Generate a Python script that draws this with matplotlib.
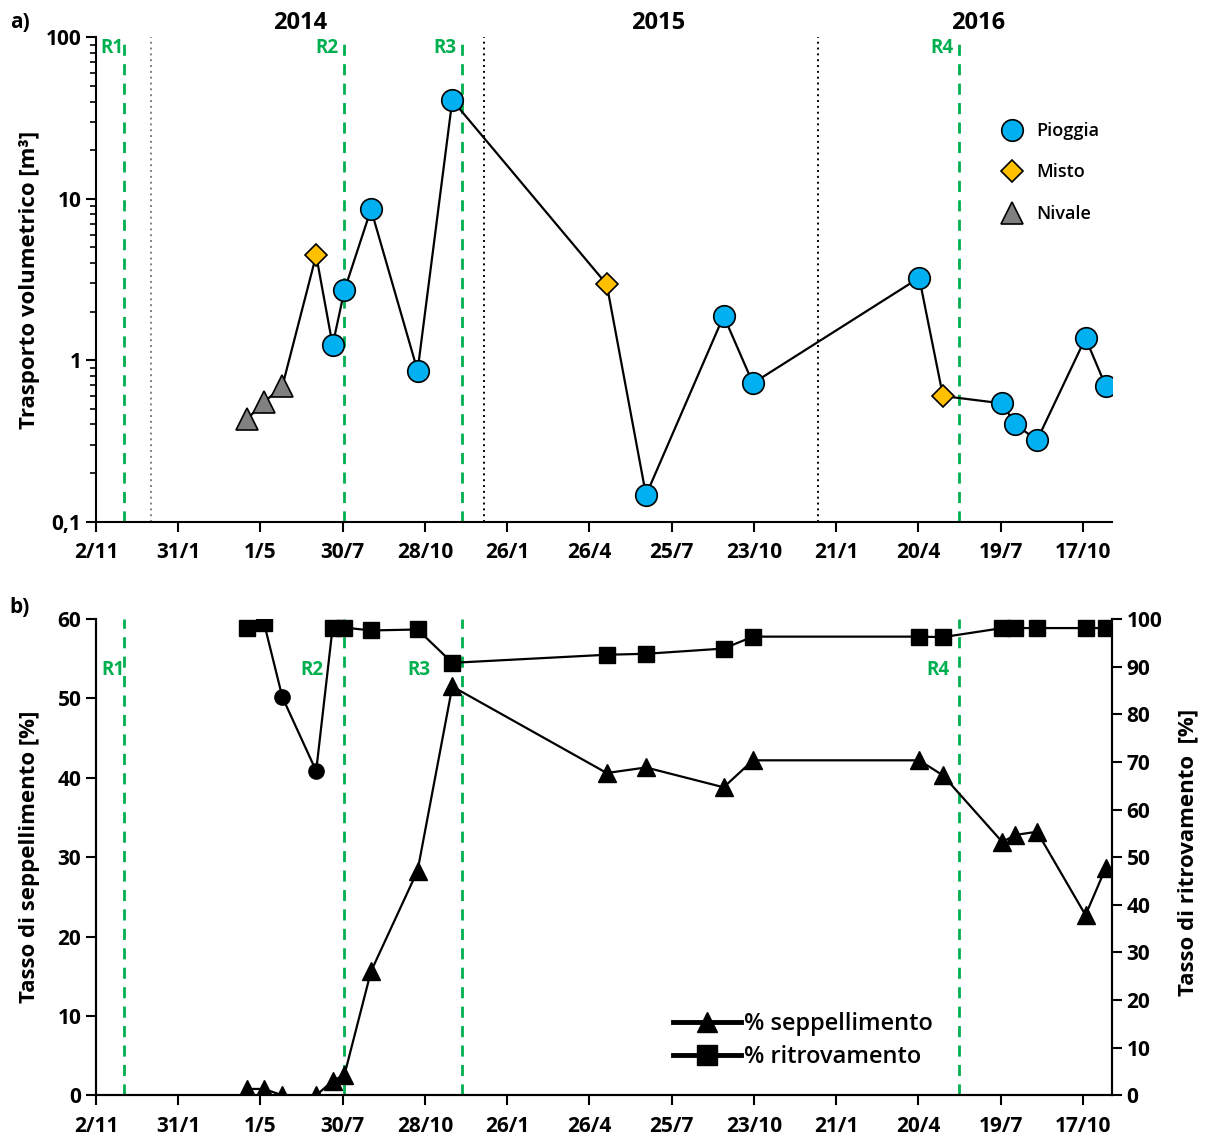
import pandas as pd
import matplotlib
matplotlib.use("Agg")
import matplotlib.pyplot as plt
import matplotlib.dates as mdates
from matplotlib.lines import Line2D
from matplotlib.ticker import FixedLocator, FuncFormatter, NullFormatter, LogLocator

plt.rcParams['font.family'] = ['Open Sans', 'DejaVu Sans']
plt.rcParams['font.weight'] = 'bold'
plt.rcParams['axes.labelweight'] = 'bold'

# event dates (shared by both panels)
event_dates = ['2014-04-16', '2014-05-05', '2014-05-25', '2014-07-01', '2014-07-19',
               '2014-08-01', '2014-08-30', '2014-10-20', '2014-11-27', '2015-05-15',
               '2015-06-27', '2015-09-20', '2015-10-22', '2016-04-21', '2016-05-17',
               '2016-07-21', '2016-08-04', '2016-08-28', '2016-10-20', '2016-11-11']

# panel a: volumetric transport [m3] and event type
volume = [0.43, 0.55, 0.69, 4.47, 1.24, 2.72, 8.6, 0.86, 40.8, 2.95,
          0.146, 1.88, 0.72, 3.24, 0.60, 0.54, 0.40, 0.32, 1.37, 0.695]
event_type = ['Nivale'] * 3 + ['Misto'] + ['Pioggia'] * 5 + ['Misto'] + \
             ['Pioggia'] * 4 + ['Misto'] + ['Pioggia'] * 5

# panel b: burial rate [%] (left) and recovery rate [%] (right)
burial = [0.8, 0.8, 0, 0, 1.8, 2.6, 15.6, 28.3, 51.5, 40.6,
          41.3, 38.8, 42.2, 42.2, 40.3, 31.9, 32.8, 33.2, 22.7, 28.6]
recovery = [98.2, 99.1, 83.6, 68.1, 98.2, 98.2, 97.6, 97.8, 90.8, 92.5,
            92.7, 93.8, 96.3, 96.3, 96.2, 98.1, 98.1, 98.1, 98.1, 98.1]
recovery_marker = ['s', 's', 'o', 'o'] + ['s'] * 16

# survey dates and year boundaries
survey_names = ['R1', 'R2', 'R3', 'R4']
survey_dates = ['2013-12-03', '2014-07-31', '2014-12-08', '2016-06-03']
year_starts = ['2014-01-01', '2015-01-01', '2016-01-01']
year_labels = ['2014', '2015', '2016']
year_label_pos = ['2014-06-13', '2015-07-10', '2016-06-25']
# gap (days) between each R label and its line, per panel
label_gap_a = [1, 6, 6, 6]
label_gap_b = [0, 22, 35, 10]

x_start = pd.Timestamp('2013-11-02')
x_end = pd.Timestamp('2016-11-18')
tick_dates = pd.date_range(x_start, periods=13, freq='90D')

dates = pd.to_datetime(event_dates)
styles = {
    'Pioggia': dict(marker='o', color='#00B0F0', ms=15.5),
    'Misto': dict(marker='D', color='#FFC000', ms=11),
    'Nivale': dict(marker='^', color='#808080', ms=16),
}
GREEN = '#00B050'
FS = 15

fig = plt.figure(figsize=(12.07, 11.40), dpi=100)
ax1 = fig.add_axes([0.0795, 0.5424, 0.8418, 0.4249])
ax2 = fig.add_axes([0.0795, 0.0392, 0.8418, 0.4178])


def date_fmt(x, pos):
    d = mdates.num2date(x)
    return f"{d.day}/{d.month}"


def style_xaxis(ax):
    ax.set_xlim(x_start, x_end)
    ax.xaxis.set_major_locator(FixedLocator(mdates.date2num(tick_dates)))
    ax.xaxis.set_major_formatter(FuncFormatter(date_fmt))
    ax.tick_params(axis='x', direction='out', length=7, width=1.5, pad=8, labelsize=FS)


# ---------- panel a ----------
ax1.plot(dates, volume, color='black', lw=1.6, zorder=3)
for name in ['Pioggia', 'Misto', 'Nivale']:
    sel = [i for i, t in enumerate(event_type) if t == name]
    st = styles[name]
    ax1.plot(dates[sel], [volume[i] for i in sel], ls='none', marker=st['marker'],
             ms=st['ms'], mfc=st['color'], mec='black', mew=1.2, zorder=4, label=name)

ax1.set_yscale('log')
ax1.set_ylim(0.1, 100)
ax1.yaxis.set_major_locator(FixedLocator([0.1, 1, 10, 100]))
ax1.yaxis.set_major_formatter(FuncFormatter(lambda v, p: f"{v:g}".replace('.', ',')))
ax1.yaxis.set_minor_locator(LogLocator(base=10, subs=range(2, 10)))
ax1.yaxis.set_minor_formatter(NullFormatter())
ax1.tick_params(axis='y', which='major', direction='out', length=7, width=1.5, labelsize=FS)
ax1.tick_params(axis='y', which='minor', direction='out', length=4, width=1.2)
style_xaxis(ax1)
for s in ['top', 'right']:
    ax1.spines[s].set_visible(False)
for s in ['left', 'bottom']:
    ax1.spines[s].set_linewidth(1.5)

ax1.set_ylabel('Trasporto volumetrico [m³]', fontsize=16)
ax1.yaxis.set_label_coords(-0.055, 0.5)

for i, d in enumerate(year_starts):
    ax1.axvline(pd.Timestamp(d), color='#808080' if i == 0 else 'black',
                ls=(0, (1, 2)), lw=1.4, zorder=1)
for name, d, g in zip(survey_names, survey_dates, label_gap_a):
    ax1.axvline(pd.Timestamp(d), color=GREEN, ls=(0, (4, 3)), lw=2, zorder=2)
    ax1.text(pd.Timestamp(d) - pd.Timedelta(days=g), 0.978, name, color=GREEN,
             fontsize=13.5, ha='right', va='center',
             transform=ax1.get_xaxis_transform())
for lab, d in zip(year_labels, year_label_pos):
    ax1.text(pd.Timestamp(d), 1.029, lab, fontsize=17,
             ha='center', va='center', transform=ax1.get_xaxis_transform())

ax1.legend(loc='upper left', bbox_to_anchor=(0.877, 0.84), frameon=False,
           prop=dict(size=13, weight='semibold'), labelspacing=1.3,
           handletextpad=0.35, borderaxespad=0)

# ---------- panel b ----------
ax3 = ax2.twinx()
ax2.plot(dates, burial, color='black', lw=1.6, marker='^', ms=13, mfc='black',
         mec='black', zorder=3)
ax3.plot(dates, recovery, color='black', lw=1.6, zorder=3)
for m in ['s', 'o']:
    sel = [i for i, mk in enumerate(recovery_marker) if mk == m]
    ax3.plot(dates[sel], [recovery[i] for i in sel], ls='none', marker=m,
             ms=12 if m == 's' else 11, color='black', zorder=4)

ax2.set_ylim(0, 60)
ax3.set_ylim(0, 100)
ax2.set_yticks(range(0, 61, 10))
ax3.set_yticks(range(0, 101, 10))
ax2.tick_params(axis='y', direction='out', length=7, width=1.5, labelsize=FS)
ax3.tick_params(axis='y', direction='out', length=7, width=1.5, labelsize=FS)
style_xaxis(ax2)
ax2.spines['top'].set_visible(False)
ax3.spines['top'].set_visible(False)
for s in ['left', 'bottom', 'right']:
    ax2.spines[s].set_linewidth(1.5)
    ax3.spines[s].set_linewidth(1.5)

ax2.set_ylabel('Tasso di seppellimento [%]', fontsize=16)
ax2.yaxis.set_label_coords(-0.055, 0.5)
ax3.set_ylabel('Tasso di ritrovamento  [%]', fontsize=16, rotation=90)
ax3.yaxis.set_label_coords(1.064, 0.51)

for name, d, g in zip(survey_names, survey_dates, label_gap_b):
    ax2.axvline(pd.Timestamp(d), color=GREEN, ls=(0, (4, 3)), lw=2, zorder=1)
    ax2.text(pd.Timestamp(d) - pd.Timedelta(days=g), 0.893, name, color=GREEN,
             fontsize=13.5, ha='right', va='center',
             transform=ax2.get_xaxis_transform())

handles = [Line2D([], [], color='black', lw=3.5, marker='^', ms=14),
           Line2D([], [], color='black', lw=3.5, marker='s', ms=14)]
ax3.legend(handles, ['% seppellimento', '% ritrovamento'], loc='lower left',
           bbox_to_anchor=(0.547, 0.01), frameon=False,
           prop=dict(size=17, weight='semibold'),
           handlelength=2.9, handletextpad=0.1, labelspacing=0.4)

fig.text(0.008, 0.975, 'a)', fontsize=15)
fig.text(0.008, 0.462, 'b)', fontsize=15)

fig.savefig('out.png', dpi=100)
